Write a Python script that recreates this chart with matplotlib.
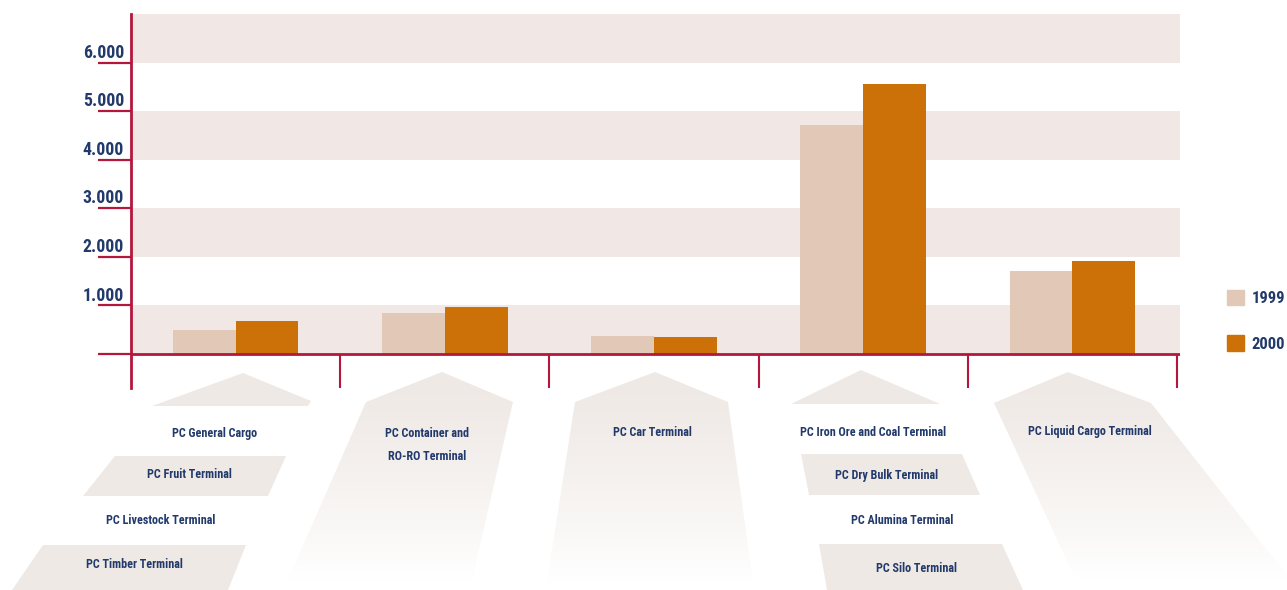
import os
import numpy as np
import matplotlib
matplotlib.use('Agg')
import matplotlib.pyplot as plt
from matplotlib import font_manager as fm
from matplotlib.patches import Polygon, Patch

# --- data -------------------------------------------------------------
years = ['1999', '2000']
terminals = [
    ['PC General Cargo', 'PC Fruit Terminal', 'PC Livestock Terminal', 'PC Timber Terminal'],
    ['PC Container and\nRO-RO Terminal'],
    ['PC Car Terminal'],
    ['PC Iron Ore and Coal Terminal', 'PC Dry Bulk Terminal', 'PC Alumina Terminal', 'PC Silo Terminal'],
    ['PC Liquid Cargo Terminal'],
]
values_1999 = [495, 845, 370, 4705, 1705]
values_2000 = [680, 965, 350, 5550, 1910]
y_ticks = [1000, 2000, 3000, 4000, 5000, 6000]
y_tick_labels = ['1.000', '2.000', '3.000', '4.000', '5.000', '6.000']

# --- style ------------------------------------------------------------
RED = '#b5163c'
NAVY = '#223a6b'
BAND = '#f1e8e5'
SHAPE = (239 / 255, 233 / 255, 229 / 255)
C1999 = '#e2c8b7'
C2000 = '#cc7108'


def narrow_font():
    # prefer a condensed bold face if one is on the system
    wanted = ['LiberationSansNarrow-Bold', 'RobotoCondensed-Bold', 'DejaVuSansCondensed-Bold',
              'OpenSans_Condensed-Bold', 'OpenSansCondensed-Bold', 'NotoSans-CondensedBold',
              'LiberationSansNarrow-Regular', 'RobotoCondensed-Regular', 'DejaVuSansCondensed']
    files = fm.findSystemFonts() + [f.fname for f in fm.fontManager.ttflist]
    by_name = {os.path.splitext(os.path.basename(f))[0]: f for f in files}
    for w in wanted:
        if w in by_name:
            return dict(fname=by_name[w]), True
    return dict(family='Liberation Sans', weight='bold'), False


FONT_KW, NARROW = narrow_font()
SCALE = 1.0 if NARROW else 0.85


def fp(size):
    return fm.FontProperties(size=size * SCALE, **FONT_KW)


W, H = 1287, 590
fig = plt.figure(figsize=(W / 100, H / 100), dpi=100)

# background layer in pixel units for the label blocks under the groups
bg = fig.add_axes([0, 0, 1, 1], zorder=0)
bg.set_xlim(0, W)
bg.set_ylim(H, 0)
bg.axis('off')

flat_shapes = [
    [(152, 406), (243, 373), (311, 401), (308, 406)],
    [(115, 456), (286, 456), (268, 496), (83, 496)],
    [(43, 545), (246, 545), (228, 590), (12, 590)],
    [(791, 404), (861, 370), (940, 404)],
    [(801, 454), (962, 454), (980, 495), (809, 495)],
    [(819, 544), (1002, 544), (1023, 590), (827, 590)],
]
fade_shapes = [
    [(288, 580), (366, 402), (442, 372), (513, 402), (472, 580)],
    [(547, 582), (575, 402), (655, 372), (728, 402), (753, 582)],
    [(1075, 578), (994, 403), (1068, 372), (1151, 403), (1288, 577)],
]

for pts in flat_shapes:
    bg.add_patch(Polygon(pts, closed=True, facecolor=SHAPE, lw=0))

for pts in fade_shapes:
    pts = np.array(pts, float)
    x0, x1 = pts[:, 0].min(), pts[:, 0].max()
    y0, y1 = pts[:, 1].min(), pts[:, 1].max()
    t = np.linspace(0, 1, 256)[:, None, None] ** 1.4
    top = np.array(SHAPE)[None, None, :]
    img = np.repeat(top + (1 - top) * t, 2, axis=1)
    poly = Polygon(pts, closed=True, facecolor='none', lw=0)
    bg.add_patch(poly)
    im = bg.imshow(img, extent=(x0, x1, y1, y0), aspect='auto', interpolation='bilinear')
    im.set_clip_path(poly)

bg.set_xlim(0, W)
bg.set_ylim(H, 0)

label_pos = [
    [(215, 433), (189, 475), (161, 521), (134, 565)],
    [(427, 445)],
    [(652, 433)],
    [(873, 432), (887, 475), (902, 520), (917, 568)],
    [(1090, 432)],
]
for names, pos in zip(terminals, label_pos):
    for name, (px, py) in zip(names, pos):
        bg.text(px, py, name, ha='center', va='center', fontproperties=fp(8.7),
                color=NAVY, linespacing=2.0)

# --- main chart -------------------------------------------------------
ax = fig.add_axes([131 / W, 1 - 388 / H, (1180 - 131) / W, (388 - 14) / H], zorder=1)
ax.patch.set_alpha(0)
ax.set_xlim(-0.5, 4.515)
ax.set_ylim(-700, 7000)

for lo in range(0, 7000, 2000):
    ax.axhspan(lo, lo + 1000, color=BAND, lw=0, zorder=0)

x = np.arange(len(values_1999))
bw = 0.3
ax.bar(x - bw / 2, values_1999, bw, color=C1999, zorder=2, label=years[0])
ax.bar(x + bw / 2, values_2000, bw, color=C2000, zorder=2, label=years[1])

ax.axhline(0, color=RED, lw=2, zorder=4)
ax.vlines(np.arange(0.5, 5, 1), -700, 0, color=RED, lw=1.5, zorder=4)

for s in ['top', 'right', 'bottom']:
    ax.spines[s].set_visible(False)
ax.spines['left'].set_color(RED)
ax.spines['left'].set_linewidth(2)
ax.set_xticks([])
ax.set_yticks([0] + y_ticks)
ax.tick_params(axis='y', length=24, width=1.6, color=RED, labelleft=False)

for v, lab in zip(y_ticks, y_tick_labels):
    ax.annotate(lab, xy=(0, v), xycoords=('axes fraction', 'data'),
                xytext=(-5, 3.5), textcoords='offset points',
                ha='right', va='baseline', fontproperties=fp(12.8),
                color=NAVY)

handles = [Patch(color=C1999, label=years[0]), Patch(color=C2000, label=years[1])]
leg = fig.legend(handles=handles, loc='upper left',
                 bbox_to_anchor=(1227 / W, 1 - 290 / H), frameon=False,
                 prop=fp(12),
                 handlelength=1.02 / SCALE, handleheight=1.02 / SCALE,
                 handletextpad=0.45 / SCALE,
                 labelspacing=1.75 / SCALE, borderpad=0, borderaxespad=0)
for t in leg.get_texts():
    t.set_color(NAVY)

fig.savefig('out.png', dpi=100)
